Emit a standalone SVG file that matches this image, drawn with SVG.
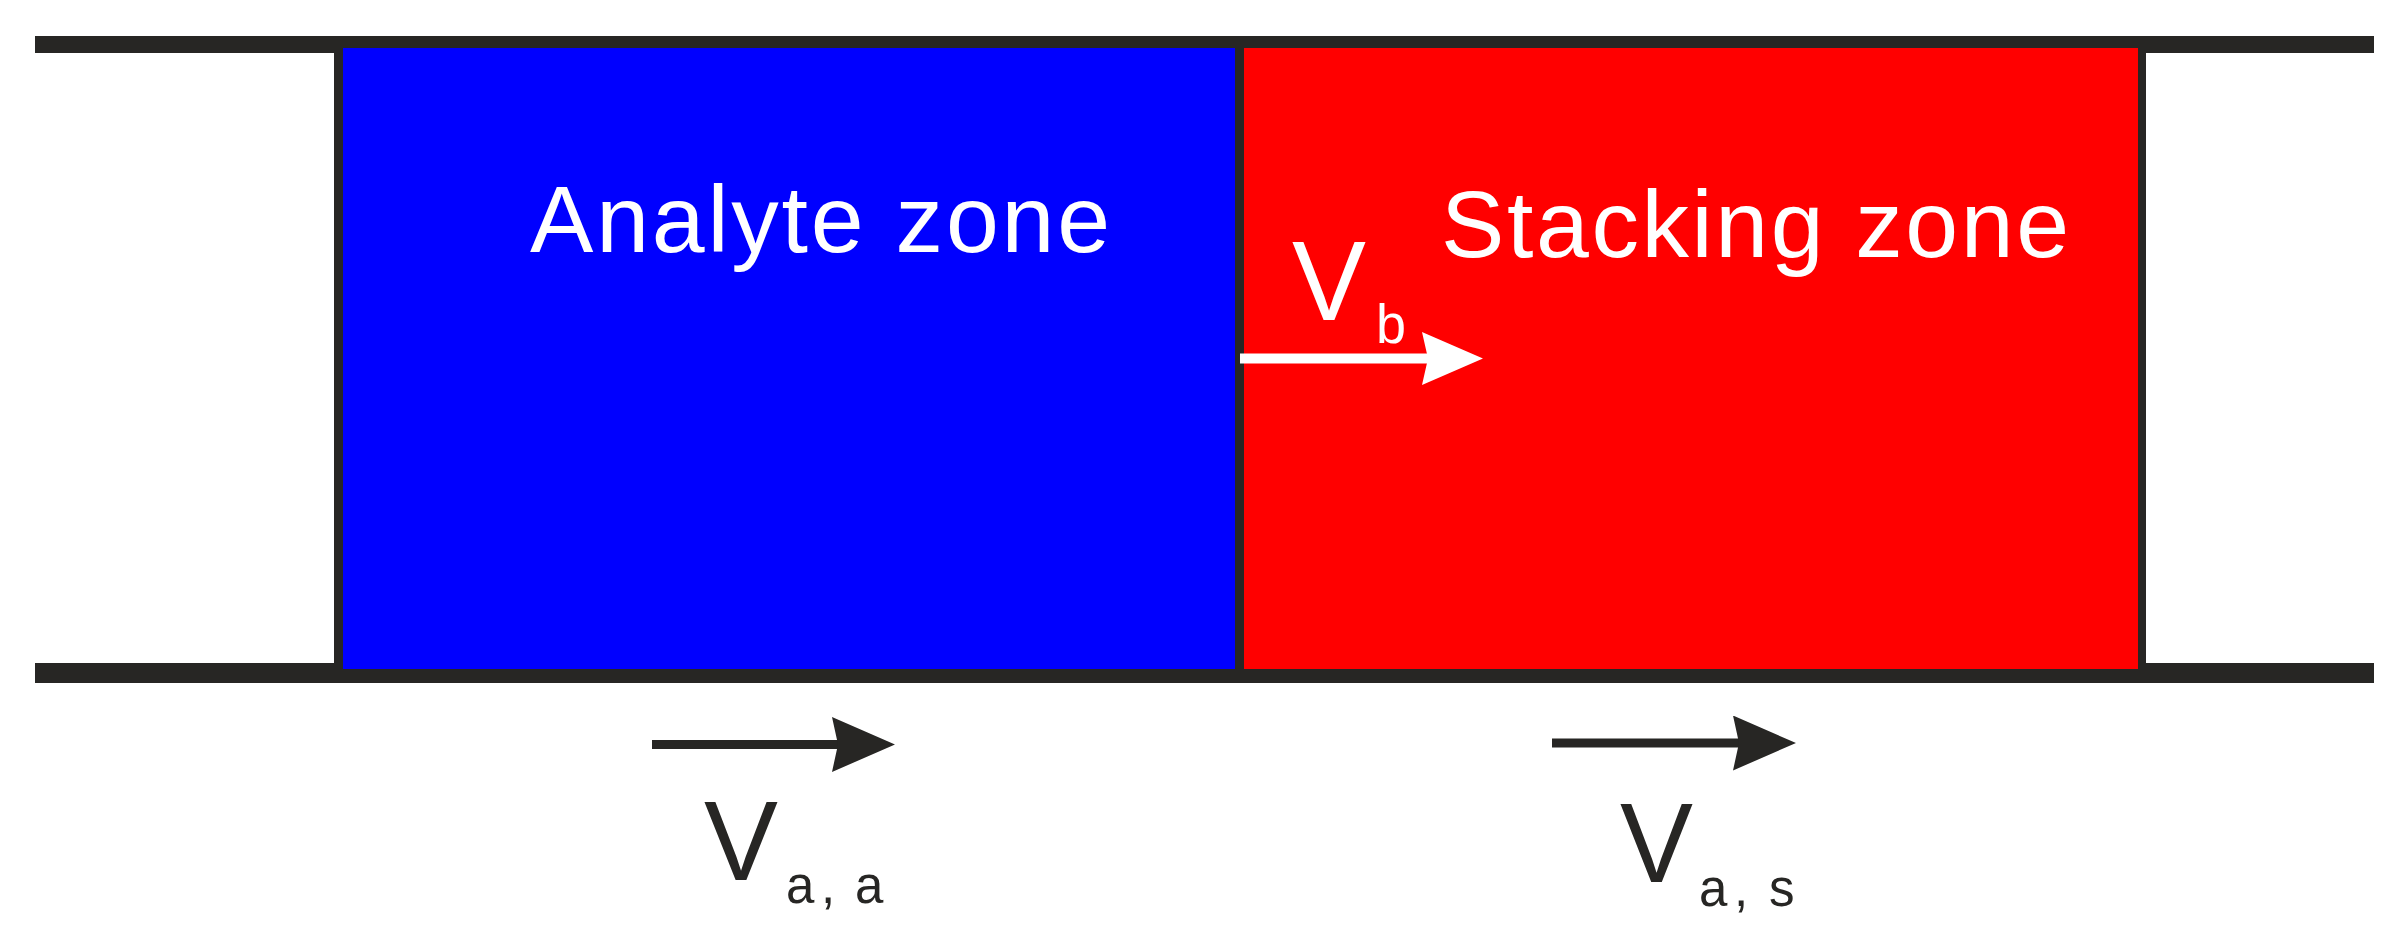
<svg xmlns="http://www.w3.org/2000/svg" width="2403" height="939" viewBox="0 0 2403 939">
<style>
.bar{fill:#272624}
.wall{fill:#272624}
.lbl{font-family:"Liberation Sans",Arial,sans-serif;fill:#ffffff}
.vel{font-family:"Liberation Sans",Arial,sans-serif;fill:#272624}
.arrowK{stroke:#272624;stroke-width:9;fill:none}
.arrowW{stroke:#ffffff;stroke-width:10;fill:none}
</style>
<defs>
<marker id="headK" markerUnits="userSpaceOnUse" markerWidth="64" markerHeight="56" refX="6" refY="27.5" orient="auto" viewBox="0 0 64 56">
<path d="M0,0 L63,27.5 L0,55 L6,27.5 z" fill="#272624"/>
</marker>
<marker id="headW" markerUnits="userSpaceOnUse" markerWidth="62" markerHeight="54" refX="6" refY="26.5" orient="auto" viewBox="0 0 62 54">
<path d="M0,0 L61,26.5 L0,53 L6,26.5 z" fill="#ffffff"/>
</marker>
</defs>
<rect x="0" y="0" width="2403" height="939" fill="#ffffff"/>
<g id="capillary">
<rect class="bar" x="35" y="36" width="2339" height="17"/>
<rect class="bar" x="35" y="663" width="2339" height="20"/>
</g>
<g id="analyte-zone">
<rect x="343" y="48" width="892" height="621" fill="#0000ff"/>
<rect class="wall" x="334" y="48" width="9" height="621"/>
<text class="lbl" x="530" y="252" font-size="95" textLength="580" lengthAdjust="spacing">Analyte zone</text>
</g>
<g id="stacking-zone">
<rect x="1244" y="48" width="894" height="621" fill="#ff0000"/>
<rect class="wall" x="1235" y="48" width="9" height="621"/>
<rect class="wall" x="2138" y="48" width="8" height="621"/>
<text class="lbl" x="1441" y="257" font-size="95" textLength="628" lengthAdjust="spacing">Stacking zone</text>
</g>
<g id="connectors">
<line class="arrowW" x1="1240" y1="358.5" x2="1428" y2="358.5" marker-end="url(#headW)"/>
<line class="arrowK" x1="652" y1="744.5" x2="838" y2="744.5" marker-end="url(#headK)"/>
<line class="arrowK" x1="1552" y1="743" x2="1739" y2="743" marker-end="url(#headK)"/>
</g>
<g id="label-vb">
<text class="lbl" x="1292" y="320" font-size="114" textLength="74" lengthAdjust="spacingAndGlyphs">V</text>
<text class="lbl" x="1376" y="343" font-size="56" textLength="30" lengthAdjust="spacingAndGlyphs">b</text>
</g>
<g id="label-vaa">
<text class="vel" x="704" y="880" font-size="114" textLength="74" lengthAdjust="spacingAndGlyphs">V</text>
<text class="vel" x="786 821 838 855" y="903" font-size="51">a, a</text>
</g>
<g id="label-vas">
<text class="vel" x="1620" y="882" font-size="114" textLength="73" lengthAdjust="spacingAndGlyphs">V</text>
<text class="vel" x="1699 1734 1751 1769" y="906" font-size="51">a, s</text>
</g>
</svg>
